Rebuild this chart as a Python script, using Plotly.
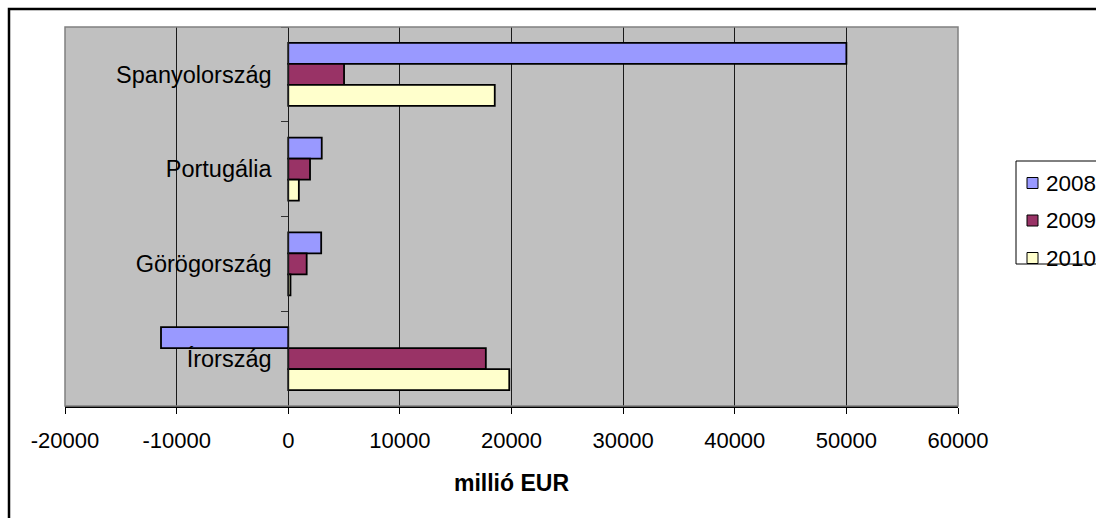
import plotly.graph_objects as go

# Countries, listed top to bottom
countries = ["Spanyolország", "Portugália", "Görögország", "Írország"]
years = ["2008", "2009", "2010"]

# Values in million EUR, one list per year (same order as countries)
values_2008 = [50000, 3000, 2950, -11400]
values_2009 = [5000, 1950, 1650, 17700]
values_2010 = [18500, 950, 200, 19800]

series = [values_2008, values_2009, values_2010]
colors = ["#9999FF", "#993366", "#FFFFCC"]

x_ticks = [-20000, -10000, 0, 10000, 20000, 30000, 40000, 50000, 60000]
x_title = "millió EUR"

W, H = 1096, 518
L, R, T, B = 65, 138, 27, 112
PW, PH = W - L - R, H - T - B
FONT = "Arial, Liberation Sans, sans-serif"


def px_x(px):
    return (px - L) / PW


def px_y(py):
    return (H - B - py) / PH


fig = go.Figure()
for name, vals, col in zip(years, series, colors):
    fig.add_trace(go.Bar(
        y=countries, x=vals, name=name, orientation="h",
        marker=dict(color=col, line=dict(color="#000000", width=1.8)),
        showlegend=False,
    ))

xmin, xmax = x_ticks[0], x_ticks[-1]

shapes = [
    # outer chart frame
    dict(type="rect", xref="paper", yref="paper",
         x0=px_x(9), x1=px_x(W + 20), y0=px_y(H + 20), y1=px_y(9),
         line=dict(color="#000000", width=2.5), layer="below"),
    # plot area border
    dict(type="rect", xref="paper", yref="paper",
         x0=0, x1=1, y0=0, y1=1,
         line=dict(color="#808080", width=1.5), layer="above"),
    # legend box
    dict(type="rect", xref="paper", yref="paper",
         x0=px_x(1016), x1=px_x(W + 20), y0=px_y(264), y1=px_y(161),
         line=dict(color="#000000", width=1), fillcolor="#FFFFFF"),
]

annotations = []
legend_y = [183, 220.5, 258]
for name, col, cy in zip(years, colors, legend_y):
    shapes.append(dict(type="rect", xref="paper", yref="paper",
                       x0=px_x(1027), x1=px_x(1038),
                       y0=px_y(cy + 5.5), y1=px_y(cy - 5.5),
                       line=dict(color="#000000", width=1), fillcolor=col))
    annotations.append(dict(xref="paper", yref="paper", x=px_x(1044), y=px_y(cy),
                            xanchor="left", yanchor="middle", showarrow=False,
                            text=name, font=dict(family=FONT, size=22.5, color="#000000")))

fig.update_layout(
    width=W, height=H,
    margin=dict(l=L, r=R, t=T, b=B),
    paper_bgcolor="#FFFFFF",
    plot_bgcolor="#C0C0C0",
    barmode="group",
    bargap=0.335,
    bargroupgap=0,
    font=dict(family=FONT, size=22, color="#000000"),
    shapes=shapes,
    annotations=annotations,
    xaxis=dict(
        range=[xmin, xmax],
        tickmode="array", tickvals=x_ticks, ticktext=[str(v) for v in x_ticks],
        showgrid=True, gridcolor="#1a1a1a", gridwidth=1,
        zeroline=False,
        ticks="outside", ticklen=6, tickcolor="#000000", tickwidth=1,
        showline=True, linecolor="#000000", linewidth=1.5,
        tickfont=dict(family=FONT, size=22),
        ticklabelstandoff=8,
        title=dict(text="<b>" + x_title + "</b>",
                   font=dict(family=FONT, size=23), standoff=23),
    ),
    yaxis=dict(
        type="category",
        categoryorder="array", categoryarray=countries,
        autorange="reversed",
        anchor="free", position=(0 - xmin) / (xmax - xmin),
        showgrid=False, zeroline=False,
        showline=True, linecolor="#1a1a1a", linewidth=1,
        tickson="boundaries", ticks="outside", ticklen=7, tickcolor="#333333",
        tickfont=dict(family=FONT, size=23.5),
        ticklabelstandoff=12,
    ),
)

fig.write_html("out.html")
